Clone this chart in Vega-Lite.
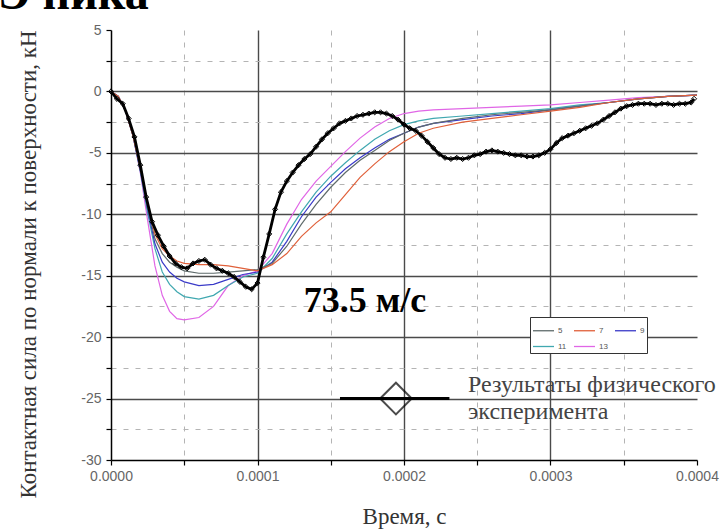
{
  "$schema": "https://vega.github.io/schema/vega-lite/v6.json",
  "width": 586,
  "height": 430,
  "autosize": {"type": "none"},
  "padding": {"left": 111, "top": 30, "right": 25, "bottom": 70},
  "background": "white",
  "title": {"text": "Э ника", "anchor": "start", "frame": "group", "font": "Liberation Serif", "fontSize": 48, "fontWeight": "bold", "color": "black", "dx": -113, "offset": 4},
  "config": {"view": {"stroke": null}, "axis": {"labelFont": "Liberation Sans", "labelFontSize": 14, "labelColor": "#666"}},
  "datasets": {
    "sim": [
      {"t":0,"F":0,"s":"13"},{"t":0.000005,"F":-0.4,"s":"13"},{"t":0.00001,"F":-1.6,"s":"13"},{"t":0.000015,"F":-3.6,"s":"13"},{"t":0.00002,"F":-6.6,"s":"13"},{"t":0.000025,"F":-10.5,"s":"13"},{"t":0.00003,"F":-14.2,"s":"13"},{"t":0.000035,"F":-16.6,"s":"13"},{"t":0.00004,"F":-17.9,"s":"13"},{"t":0.000045,"F":-18.5,"s":"13"},{"t":0.00005,"F":-18.6,"s":"13"},{"t":0.00006,"F":-18.4,"s":"13"},{"t":0.00007,"F":-17.5,"s":"13"},{"t":0.00008,"F":-15.8,"s":"13"},{"t":0.00009,"F":-15.0,"s":"13"},{"t":0.0001,"F":-14.6,"s":"13"},{"t":0.00011,"F":-13.2,"s":"13"},{"t":0.00012,"F":-10.8,"s":"13"},{"t":0.00013,"F":-8.8,"s":"13"},{"t":0.00014,"F":-7.3,"s":"13"},{"t":0.00015,"F":-6.1,"s":"13"},{"t":0.00016,"F":-4.9,"s":"13"},{"t":0.00017,"F":-3.8,"s":"13"},{"t":0.00018,"F":-2.9,"s":"13"},{"t":0.00019,"F":-2.2,"s":"13"},{"t":0.0002,"F":-1.8,"s":"13"},{"t":0.00021,"F":-1.6,"s":"13"},{"t":0.00022,"F":-1.5,"s":"13"},{"t":0.00024,"F":-1.4,"s":"13"},{"t":0.00026,"F":-1.3,"s":"13"},{"t":0.00028,"F":-1.2,"s":"13"},{"t":0.0003,"F":-1.1,"s":"13"},{"t":0.00032,"F":-0.9,"s":"13"},{"t":0.00034,"F":-0.7,"s":"13"},{"t":0.00036,"F":-0.5,"s":"13"},{"t":0.00038,"F":-0.4,"s":"13"},{"t":0.0004,"F":-0.3,"s":"13"},
      {"t":0,"F":0,"s":"11"},{"t":0.000005,"F":-0.4,"s":"11"},{"t":0.00001,"F":-1.6,"s":"11"},{"t":0.000015,"F":-3.6,"s":"11"},{"t":0.00002,"F":-6.5,"s":"11"},{"t":0.000025,"F":-9.9,"s":"11"},{"t":0.00003,"F":-12.8,"s":"11"},{"t":0.000035,"F":-14.7,"s":"11"},{"t":0.00004,"F":-15.7,"s":"11"},{"t":0.000045,"F":-16.3,"s":"11"},{"t":0.00005,"F":-16.7,"s":"11"},{"t":0.00006,"F":-16.9,"s":"11"},{"t":0.00007,"F":-16.6,"s":"11"},{"t":0.00008,"F":-15.8,"s":"11"},{"t":0.00009,"F":-15.1,"s":"11"},{"t":0.0001,"F":-14.8,"s":"11"},{"t":0.00011,"F":-13.6,"s":"11"},{"t":0.00012,"F":-11.6,"s":"11"},{"t":0.00013,"F":-9.8,"s":"11"},{"t":0.00014,"F":-8.2,"s":"11"},{"t":0.00015,"F":-6.9,"s":"11"},{"t":0.00016,"F":-5.8,"s":"11"},{"t":0.00017,"F":-4.8,"s":"11"},{"t":0.00018,"F":-3.9,"s":"11"},{"t":0.00019,"F":-3.2,"s":"11"},{"t":0.0002,"F":-2.7,"s":"11"},{"t":0.00021,"F":-2.4,"s":"11"},{"t":0.00022,"F":-2.2,"s":"11"},{"t":0.00024,"F":-2.0,"s":"11"},{"t":0.00026,"F":-1.8,"s":"11"},{"t":0.00028,"F":-1.6,"s":"11"},{"t":0.0003,"F":-1.4,"s":"11"},{"t":0.00032,"F":-1.1,"s":"11"},{"t":0.00034,"F":-0.9,"s":"11"},{"t":0.00036,"F":-0.6,"s":"11"},{"t":0.00038,"F":-0.4,"s":"11"},{"t":0.0004,"F":-0.3,"s":"11"},
      {"t":0,"F":0,"s":"9"},{"t":0.000005,"F":-0.4,"s":"9"},{"t":0.00001,"F":-1.6,"s":"9"},{"t":0.000015,"F":-3.6,"s":"9"},{"t":0.00002,"F":-6.4,"s":"9"},{"t":0.000025,"F":-9.6,"s":"9"},{"t":0.00003,"F":-12.4,"s":"9"},{"t":0.000035,"F":-13.9,"s":"9"},{"t":0.00004,"F":-14.7,"s":"9"},{"t":0.000045,"F":-15.2,"s":"9"},{"t":0.00005,"F":-15.5,"s":"9"},{"t":0.00006,"F":-15.8,"s":"9"},{"t":0.00007,"F":-15.7,"s":"9"},{"t":0.00008,"F":-15.3,"s":"9"},{"t":0.00009,"F":-14.9,"s":"9"},{"t":0.0001,"F":-14.7,"s":"9"},{"t":0.00011,"F":-13.9,"s":"9"},{"t":0.00012,"F":-12.2,"s":"9"},{"t":0.00013,"F":-10.2,"s":"9"},{"t":0.00014,"F":-8.6,"s":"9"},{"t":0.00015,"F":-7.4,"s":"9"},{"t":0.00016,"F":-6.3,"s":"9"},{"t":0.00017,"F":-5.4,"s":"9"},{"t":0.00018,"F":-4.6,"s":"9"},{"t":0.00019,"F":-3.9,"s":"9"},{"t":0.0002,"F":-3.4,"s":"9"},{"t":0.00021,"F":-2.9,"s":"9"},{"t":0.00022,"F":-2.6,"s":"9"},{"t":0.00024,"F":-2.3,"s":"9"},{"t":0.00026,"F":-2.0,"s":"9"},{"t":0.00028,"F":-1.8,"s":"9"},{"t":0.0003,"F":-1.5,"s":"9"},{"t":0.00032,"F":-1.2,"s":"9"},{"t":0.00034,"F":-0.9,"s":"9"},{"t":0.00036,"F":-0.6,"s":"9"},{"t":0.00038,"F":-0.4,"s":"9"},{"t":0.0004,"F":-0.3,"s":"9"},
      {"t":0,"F":0,"s":"5"},{"t":0.000005,"F":-0.4,"s":"5"},{"t":0.00001,"F":-1.6,"s":"5"},{"t":0.000015,"F":-3.6,"s":"5"},{"t":0.00002,"F":-6.3,"s":"5"},{"t":0.000025,"F":-9.4,"s":"5"},{"t":0.00003,"F":-12.0,"s":"5"},{"t":0.000035,"F":-13.2,"s":"5"},{"t":0.00004,"F":-13.9,"s":"5"},{"t":0.000045,"F":-14.3,"s":"5"},{"t":0.00005,"F":-14.6,"s":"5"},{"t":0.00006,"F":-14.8,"s":"5"},{"t":0.00007,"F":-14.8,"s":"5"},{"t":0.00008,"F":-14.7,"s":"5"},{"t":0.00009,"F":-14.6,"s":"5"},{"t":0.0001,"F":-14.5,"s":"5"},{"t":0.00011,"F":-14.0,"s":"5"},{"t":0.00012,"F":-12.6,"s":"5"},{"t":0.00013,"F":-10.8,"s":"5"},{"t":0.00014,"F":-9.2,"s":"5"},{"t":0.00015,"F":-7.8,"s":"5"},{"t":0.00016,"F":-6.6,"s":"5"},{"t":0.00017,"F":-5.6,"s":"5"},{"t":0.00018,"F":-4.8,"s":"5"},{"t":0.00019,"F":-4.0,"s":"5"},{"t":0.0002,"F":-3.4,"s":"5"},{"t":0.00021,"F":-2.9,"s":"5"},{"t":0.00022,"F":-2.6,"s":"5"},{"t":0.00024,"F":-2.2,"s":"5"},{"t":0.00026,"F":-1.9,"s":"5"},{"t":0.00028,"F":-1.7,"s":"5"},{"t":0.0003,"F":-1.5,"s":"5"},{"t":0.00032,"F":-1.2,"s":"5"},{"t":0.00034,"F":-0.9,"s":"5"},{"t":0.00036,"F":-0.6,"s":"5"},{"t":0.00038,"F":-0.4,"s":"5"},{"t":0.0004,"F":-0.3,"s":"5"},
      {"t":0,"F":0,"s":"7"},{"t":0.000005,"F":-0.4,"s":"7"},{"t":0.00001,"F":-1.6,"s":"7"},{"t":0.000015,"F":-3.6,"s":"7"},{"t":0.00002,"F":-6.2,"s":"7"},{"t":0.000025,"F":-9.1,"s":"7"},{"t":0.00003,"F":-11.6,"s":"7"},{"t":0.000035,"F":-12.8,"s":"7"},{"t":0.00004,"F":-13.4,"s":"7"},{"t":0.000045,"F":-13.8,"s":"7"},{"t":0.00005,"F":-14.0,"s":"7"},{"t":0.00006,"F":-14.1,"s":"7"},{"t":0.00007,"F":-14.1,"s":"7"},{"t":0.00008,"F":-14.2,"s":"7"},{"t":0.00009,"F":-14.4,"s":"7"},{"t":0.0001,"F":-14.6,"s":"7"},{"t":0.00011,"F":-14.1,"s":"7"},{"t":0.00012,"F":-13.2,"s":"7"},{"t":0.00013,"F":-11.8,"s":"7"},{"t":0.00014,"F":-10.7,"s":"7"},{"t":0.00015,"F":-9.8,"s":"7"},{"t":0.00016,"F":-8.4,"s":"7"},{"t":0.00017,"F":-7.0,"s":"7"},{"t":0.00018,"F":-5.9,"s":"7"},{"t":0.00019,"F":-4.9,"s":"7"},{"t":0.0002,"F":-4.1,"s":"7"},{"t":0.00021,"F":-3.4,"s":"7"},{"t":0.00022,"F":-3.0,"s":"7"},{"t":0.00024,"F":-2.5,"s":"7"},{"t":0.00026,"F":-2.2,"s":"7"},{"t":0.00028,"F":-1.9,"s":"7"},{"t":0.0003,"F":-1.6,"s":"7"},{"t":0.00032,"F":-1.3,"s":"7"},{"t":0.00034,"F":-0.9,"s":"7"},{"t":0.00036,"F":-0.6,"s":"7"},{"t":0.00038,"F":-0.4,"s":"7"},{"t":0.0004,"F":-0.3,"s":"7"}
    ],
    "exp": [
      {"t":0,"F":0},{"t":0.000004,"F":-0.6},{"t":0.000008,"F":-1.0},{"t":0.000012,"F":-2.2},{"t":0.000016,"F":-3.7},{"t":0.00002,"F":-6.0},{"t":0.000024,"F":-8.6},{"t":0.000028,"F":-10.6},{"t":0.000032,"F":-11.7},{"t":0.000036,"F":-12.6},{"t":0.00004,"F":-13.4},{"t":0.000044,"F":-14.0},{"t":0.000048,"F":-14.3},{"t":0.000052,"F":-14.4},{"t":0.000056,"F":-14.0},{"t":0.00006,"F":-13.8},{"t":0.000064,"F":-13.7},{"t":0.000068,"F":-14.1},{"t":0.000072,"F":-14.4},{"t":0.000076,"F":-14.6},{"t":0.00008,"F":-14.8},{"t":0.000084,"F":-15.1},{"t":0.000088,"F":-15.5},{"t":0.000092,"F":-15.9},{"t":0.000096,"F":-16.1},{"t":0.0001,"F":-15.6},
      {"t":0.000104,"F":-13.5},{"t":0.000108,"F":-11.6},{"t":0.000112,"F":-9.6},{"t":0.000116,"F":-8.2},{"t":0.00012,"F":-7.3},{"t":0.000124,"F":-6.6},{"t":0.000128,"F":-6.0},{"t":0.000132,"F":-5.5},{"t":0.000136,"F":-5.1},{"t":0.00014,"F":-4.5},{"t":0.000144,"F":-3.9},{"t":0.000148,"F":-3.4},{"t":0.000152,"F":-3.0},{"t":0.000156,"F":-2.6},{"t":0.00016,"F":-2.4},{"t":0.000164,"F":-2.2},{"t":0.000168,"F":-2.0},{"t":0.000172,"F":-1.9},{"t":0.000176,"F":-1.8},{"t":0.00018,"F":-1.7},{"t":0.000184,"F":-1.7},{"t":0.000188,"F":-1.8},{"t":0.000192,"F":-2.0},{"t":0.000196,"F":-2.3},{"t":0.0002,"F":-2.7},
      {"t":0.000204,"F":-3.0},{"t":0.000208,"F":-3.2},{"t":0.000212,"F":-3.6},{"t":0.000216,"F":-4.1},{"t":0.00022,"F":-4.6},{"t":0.000224,"F":-5.1},{"t":0.000228,"F":-5.4},{"t":0.000232,"F":-5.5},{"t":0.000236,"F":-5.4},{"t":0.00024,"F":-5.5},{"t":0.000244,"F":-5.4},{"t":0.000248,"F":-5.2},{"t":0.000252,"F":-5.1},{"t":0.000256,"F":-4.9},{"t":0.00026,"F":-4.8},{"t":0.000264,"F":-4.9},{"t":0.000268,"F":-5.0},{"t":0.000272,"F":-5.1},{"t":0.000276,"F":-5.2},{"t":0.00028,"F":-5.2},{"t":0.000284,"F":-5.3},{"t":0.000288,"F":-5.3},{"t":0.000292,"F":-5.2},{"t":0.000296,"F":-5.0},{"t":0.0003,"F":-4.7},
      {"t":0.000304,"F":-4.2},{"t":0.000308,"F":-3.8},{"t":0.000312,"F":-3.6},{"t":0.000316,"F":-3.4},{"t":0.00032,"F":-3.2},{"t":0.000324,"F":-3.0},{"t":0.000328,"F":-2.8},{"t":0.000332,"F":-2.6},{"t":0.000336,"F":-2.3},{"t":0.00034,"F":-2.0},{"t":0.000344,"F":-1.7},{"t":0.000348,"F":-1.4},{"t":0.000352,"F":-1.2},{"t":0.000356,"F":-1.1},{"t":0.00036,"F":-1.0},{"t":0.000364,"F":-1.0},{"t":0.000368,"F":-1.0},{"t":0.000372,"F":-1.1},{"t":0.000376,"F":-1.0},{"t":0.00038,"F":-1.0},{"t":0.000384,"F":-1.1},{"t":0.000388,"F":-1.0},{"t":0.000392,"F":-1.0},{"t":0.000396,"F":-0.9},{"t":0.000398,"F":-0.6}
    ]
  },
  "layer": [
    {
      "data": {"name": "sim"},
      "mark": {"type": "line", "strokeWidth": 1.2, "clip": true},
      "encoding": {
        "x": {
          "field": "t", "type": "quantitative",
          "scale": {"domain": [0, 0.0004], "nice": false, "zero": false},
          "axis": {
            "values": [0, 0.00005, 0.0001, 0.00015, 0.0002, 0.00025, 0.0003, 0.00035, 0.0004],
            "tickCount": 50,
            "labelExpr": "round(datum.value*100000)%10==0 ? format(datum.value,'.4f') : ''",
            "labelOverlap": false, "labelFlush": false,
            "labelFont": "Liberation Sans", "labelFontSize": 14, "labelColor": "#666", "labelPadding": 4,
            "tickColor": "black", "tickSize": 5, "tickWidth": 1.2,
            "domainColor": "black", "domainWidth": 1.5,
            "grid": true,
            "gridColor": {"condition": {"test": "round(datum.value*100000)%10!=0", "value": "#b4b4b4"}, "value": "#4a4a4a"},
            "gridDash": {"condition": {"test": "round(datum.value*100000)%10!=0", "value": [5, 7]}, "value": []},
            "gridWidth": {"condition": {"test": "round(datum.value*100000)%10!=0", "value": 1}, "value": 1.4},
            "gridOpacity": {"condition": {"test": "datum.value<=0 || datum.value>=0.0004", "value": 0}, "value": 1},
            "title": "Время, с",
            "titleFont": "Liberation Serif", "titleFontSize": 23, "titleFontWeight": "normal", "titleColor": "#333", "titlePadding": 22
          }
        },
        "y": {
          "field": "F", "type": "quantitative",
          "scale": {"domain": [-30, 5], "nice": false, "zero": false},
          "axis": {
            "values": [-30, -27.5, -25, -22.5, -20, -17.5, -15, -12.5, -10, -7.5, -5, -2.5, 0, 2.5, 5],
            "tickCount": 50,
            "labelExpr": "round(datum.value*2)%10==0 ? ''+datum.value : ''",
            "labelOverlap": false, "labelFlush": false,
            "labelFont": "Liberation Sans", "labelFontSize": 14, "labelColor": "#666", "labelPadding": 5,
            "tickColor": "black", "tickSize": 5, "tickWidth": 1.2,
            "domainColor": "black", "domainWidth": 1.5,
            "grid": true,
            "gridColor": {"condition": {"test": "round(datum.value*2)%10!=0", "value": "#b4b4b4"}, "value": "#4a4a4a"},
            "gridDash": {"condition": {"test": "round(datum.value*2)%10!=0", "value": [5, 7]}, "value": []},
            "gridWidth": {"condition": {"test": "round(datum.value*2)%10!=0", "value": 1}, "value": 1.4},
            "gridOpacity": {"condition": {"test": "datum.value>=5 || datum.value<=-30", "value": 0}, "value": 1},
            "title": "Контактная сила по нормали к поверхности, кН",
            "titleFont": "Liberation Serif", "titleFontSize": 23, "titleFontWeight": "normal", "titleColor": "#333", "titlePadding": 40, "titleY": 234
          }
        },
        "color": {
          "field": "s", "type": "nominal",
          "scale": {"domain": ["5", "7", "9", "11", "13"], "range": ["#5f6b6b", "#e0603a", "#3a3ac8", "#40a8b0", "#e066e6"]},
          "legend": {
            "orient": "none", "legendX": 419, "legendY": 287, "direction": "horizontal", "columns": 3, "title": null,
            "symbolType": "stroke", "symbolSize": 441, "symbolStrokeWidth": 1.3,
            "labelFont": "Liberation Sans", "labelFontSize": 8, "labelColor": "#555", "labelOffset": 3,
            "padding": 2, "rowPadding": 0, "columnPadding": 4,
            "strokeColor": "#333", "fillColor": "white"
          }
        }
      }
    },
    {
      "data": {"name": "exp"},
      "mark": {"type": "line", "color": "black", "strokeWidth": 2.8, "point": {"shape": "diamond", "filled": false, "size": 26, "color": "black", "strokeWidth": 1}},
      "encoding": {
        "x": {"field": "t", "type": "quantitative"},
        "y": {"field": "F", "type": "quantitative"}
      }
    },
    {
      "data": {"values": [{}]},
      "mark": {"type": "rule", "color": "black", "strokeWidth": 3},
      "encoding": {
        "x": {"datum": 0.0001563, "type": "quantitative"},
        "x2": {"datum": 0.000231},
        "y": {"datum": -25, "type": "quantitative"}
      }
    },
    {
      "data": {"values": [{}]},
      "mark": {"type": "point", "shape": "diamond", "filled": false, "size": 1000, "color": "black", "strokeWidth": 2},
      "encoding": {
        "x": {"datum": 0.0001945, "type": "quantitative"},
        "y": {"datum": -25, "type": "quantitative"}
      }
    },
    {
      "data": {"values": [{}]},
      "mark": {"type": "text", "text": ["Результаты физического", "эксперимента"], "align": "left", "baseline": "alphabetic", "font": "Liberation Serif", "fontSize": 24, "color": "#444", "lineHeight": 27},
      "encoding": {
        "x": {"datum": 0.0002437, "type": "quantitative"},
        "y": {"datum": -24.45, "type": "quantitative"}
      }
    },
    {
      "data": {"values": [{}]},
      "mark": {"type": "text", "text": "73.5 м/с", "align": "center", "baseline": "alphabetic", "font": "Liberation Serif", "fontSize": 36, "fontWeight": "bold", "color": "black"},
      "encoding": {
        "x": {"datum": 0.0001734, "type": "quantitative"},
        "y": {"datum": -17.95, "type": "quantitative"}
      }
    }
  ]
}
